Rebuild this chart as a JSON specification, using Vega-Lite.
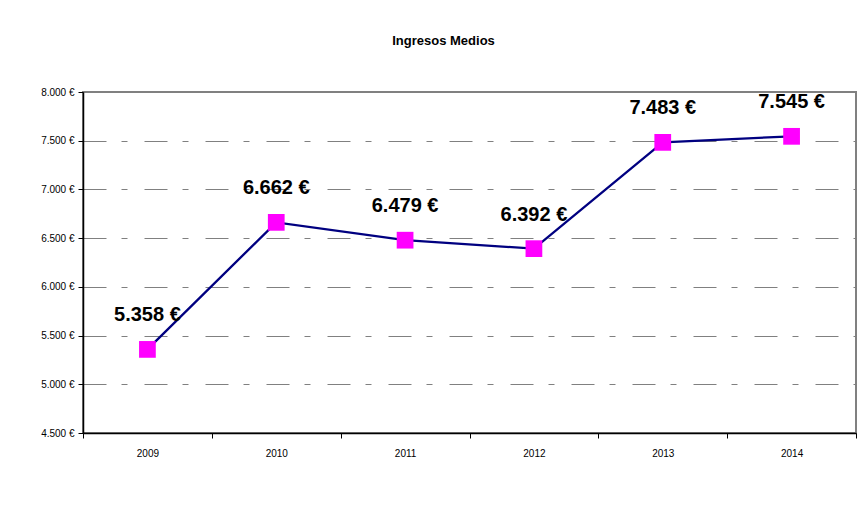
{
  "$schema": "https://vega.github.io/schema/vega-lite/v6.json",
  "autosize": {"type": "none"},
  "padding": {"left": 83, "top": 92, "right": 11, "bottom": 82},
  "width": 773,
  "height": 341,
  "background": "white",
  "title": {
    "text": "Ingresos Medios",
    "font": "Liberation Sans",
    "fontSize": 13,
    "fontWeight": "bold",
    "color": "black",
    "anchor": "middle",
    "dx": -26,
    "offset": 39
  },
  "config": {
    "font": "Liberation Sans",
    "locale": {
      "number": {"decimal": ",", "thousands": ".", "grouping": [3], "currency": ["", " €"]}
    },
    "view": {"stroke": "#808080", "strokeWidth": 2},
    "axis": {
      "labelFont": "Liberation Sans",
      "labelFontSize": 10,
      "labelColor": "black",
      "domainColor": "black",
      "domainWidth": 1.5,
      "tickColor": "black",
      "tickWidth": 1,
      "tickSize": 5,
      "title": null
    }
  },
  "data": {
    "values": [
      {"year": "2009", "ingresos": 5358},
      {"year": "2010", "ingresos": 6662},
      {"year": "2011", "ingresos": 6479},
      {"year": "2012", "ingresos": 6392},
      {"year": "2013", "ingresos": 7483},
      {"year": "2014", "ingresos": 7545}
    ]
  },
  "encoding": {
    "x": {
      "field": "year",
      "type": "ordinal",
      "scale": {"type": "band", "paddingInner": 0, "paddingOuter": 0},
      "axis": {"labelAngle": 0, "tickBand": "extent", "labelPadding": 10, "grid": false}
    },
    "y": {
      "field": "ingresos",
      "type": "quantitative",
      "scale": {"domain": [4500, 8000], "nice": false, "zero": false},
      "axis": {
        "values": [4500, 5000, 5500, 6000, 6500, 7000, 7500, 8000],
        "format": "$,d",
        "labelPadding": 4,
        "grid": true,
        "gridColor": "#808080",
        "gridWidth": 1,
        "gridDash": [23, 15, 6, 17]
      }
    }
  },
  "layer": [
    {"mark": {"type": "line", "color": "#000080", "strokeWidth": 2.3}},
    {"mark": {"type": "square", "color": "#FF00FF", "filled": true, "opacity": 1, "size": 280}},
    {
      "mark": {"type": "text", "fontSize": 20, "fontWeight": "bold", "color": "black", "dy": -34, "baseline": "middle", "align": "center"},
      "encoding": {"text": {"field": "ingresos", "type": "quantitative", "format": "$,d"}}
    }
  ]
}
